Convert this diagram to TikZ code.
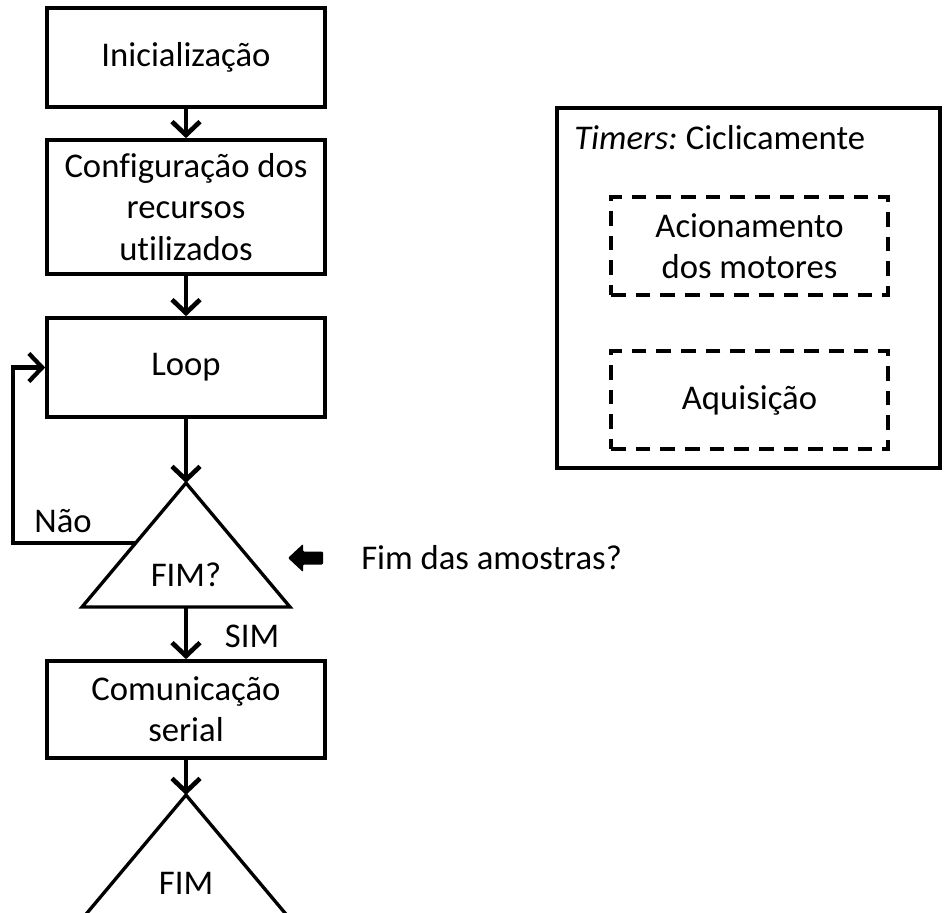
\documentclass[tikz,border=0pt]{standalone}
\usepackage{fontspec}
\setmainfont[Ligatures=NoCommon]{Carlito}
\usetikzlibrary{arrows.meta}
\tikzset{
  flowbox/.style={draw, line width=2.7pt, minimum width=208.5pt, align=center, inner sep=0pt},
  dashbox/.style={draw, line width=2.6pt, dash pattern=on 11pt off 7.5pt, minimum width=207.75pt, minimum height=73.5pt, align=center, inner sep=0pt},
  barb/.style={-{Straight Barb[length=10pt,width=21pt]}},
  flowarrow/.style={line width=3.5pt, barb},
  lbl/.style={inner sep=0pt},
}
\begin{document}
\begin{tikzpicture}[x=0.75pt,y=-0.75pt,font=\fontsize{26}{31}\selectfont]
\useasboundingbox (0,0) rectangle (944,912);
\clip (0,0) rectangle (944,912);
\fill[white] (0,0) rectangle (944,912);
% left flow
\node[flowbox, minimum height=74.25pt] (init) at (186,57.5) {\raisebox{-2pt}{Inicialização}};
\node[flowbox, minimum height=100.5pt] (config) at (186,207) {Configuração dos\\recursos\\utilizados};
\node[flowbox, minimum height=74.25pt] (loop) at (186,367.5) {\raisebox{-3pt}{Loop}};
\coordinate (t1top) at (186,483);
\coordinate (t1l) at (82,607);
\coordinate (t1r) at (290,607);
\coordinate (t1b) at (186,607);
\draw[line width=2.5pt, line join=miter] (t1top) -- (t1l) -- (t1r) -- cycle;
\node[lbl] (fimq) at (186,575) {FIM?};
\node[flowbox, minimum height=72.75pt] (com) at (186,709.5) {Comunicação\\serial};
\coordinate (t2top) at (186,795);
\coordinate (t2l) at (82,919);
\coordinate (t2r) at (290,919);
\draw[line width=2.5pt] (t2l) -- (t2top) -- (t2r);
\node[lbl] (fim) at (186,883) {FIM};
% connectors
\draw[flowarrow] (init.south) -- (config.north);
\draw[flowarrow] (config.south) -- (loop.north);
\draw[flowarrow] (loop.south) -- (t1top);
\draw[flowarrow] (t1b) -- (com.north);
\draw[flowarrow] (com.south) -- (t2top);
\coordinate (nstart) at (135.5,543);
\coordinate (ncorner1) at (13,543);
\draw[line width=3.2pt, barb] (nstart) -- (ncorner1) |- (loop.west);
\node[lbl] (nao) at (63,521) {Não};
\node[lbl] (sim) at (252,636) {SIM};
% filled arrow and question
\fill[rounded corners=0.8pt] (288,558) -- (303,544) -- (303,551.5) -- (323,551.5) -- (323,564.5) -- (303,564.5) -- (303,572) -- cycle;
\node[lbl, anchor=west] (amostras) at (361,558) {Fim das amostras?};
% timers box
\draw[line width=2.7pt] (557,108) rectangle (940,468);
\node[lbl, anchor=west] (timers) at (574,138) {\textit{Timers:}\hspace{-0.07em} Ciclicamente};
\node[dashbox] (acion) at (749.5,246) {Acionamento\\dos motores};
\node[dashbox] (aquis) at (749.5,400) {Aquisição};
\end{tikzpicture}
\end{document}
